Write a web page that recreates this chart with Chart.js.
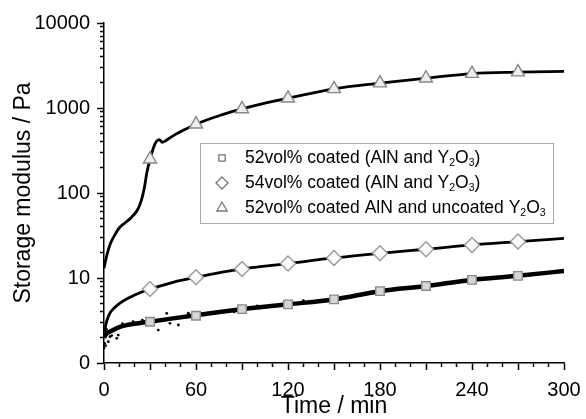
<!DOCTYPE html>
<html>
<head>
<meta charset="utf-8">
<title>Storage modulus vs time</title>
<script src="https://cdn.jsdelivr.net/npm/chart.js@4.4.1/dist/chart.umd.min.js"></script>
<style>
    html, body { margin: 0; padding: 0; background: #fff; }
</style>
</head>
<body>
<canvas id="chart" width="586" height="419"></canvas>
<script>
// Series names (legend)
const seriesNames = [
    '52vol% coated (AlN and Y₂O₃)',
    '54vol% coated (AlN and Y₂O₃)',
    '52vol% coated AlN and uncoated Y₂O₃'
];

// Marker times (min) and values (Pa)
const markTimes = [30, 60, 90, 120, 150, 180, 210, 240, 270];
const squareMarks = [3.06, 3.6, 4.3, 4.9, 5.6, 7.0, 8.05, 9.5, 10.6];
const diamondMarks = [7.4, 10.2, 12.8, 14.8, 17.2, 19.5, 21.8, 24.5, 26.8];
const triangleMarks = [250, 645, 975, 1300, 1680, 1960, 2240, 2540, 2640];

// Measured curves
const sqTime = [0, 2, 5, 10, 15, 20, 30, 45, 60, 90, 120, 150, 180, 210, 240, 270, 300];
const sqValue = [2.0, 2.25, 2.4, 2.65, 2.8, 2.9, 3.06, 3.35, 3.65, 4.3, 4.9, 5.6, 7.0, 8.05, 9.5, 10.6, 12.1];

const diaTime = [0.5, 1, 2, 4, 7, 10, 15, 20, 25, 30, 45, 60, 90, 120, 150, 180, 210, 240, 270, 300];
const diaValue = [2.3, 2.7, 3.2, 3.9, 4.5, 5.0, 5.7, 6.3, 6.9, 7.4, 8.9, 10.2, 12.8, 14.8, 17.2, 19.5, 21.8, 24.5, 26.8, 29.3];

const triTime = [0, 2, 4, 7, 10, 14, 18, 21, 23, 25, 26.5, 28, 30, 32, 34, 36, 38, 40, 45, 52, 60, 75, 90, 105, 120, 150, 180, 210, 240, 270, 300];
const triValue = [13, 19, 25, 32, 39, 45, 52, 60, 70, 90, 120, 175, 250, 330, 400, 425, 395, 410, 470, 550, 645, 810, 975, 1140, 1300, 1680, 1960, 2240, 2540, 2640, 2700];

// Scattered raw points around the 52vol% coated curve
const noiseTime = [0, 0.5, 1, 2.8, 3.9, 9.3, 8.3, 19, 35.4, 40.9, 43, 48.5, 1.5, 5, 12, 25, 55, 70, 100, 130, 85];
const noiseValue = [1.5, 1.7, 1.6, 1.78, 2.04, 2.13, 1.95, 3.06, 2.44, 3.84, 2.93, 2.8, 2.5, 2.1, 2.9, 3.2, 3.85, 3.9, 4.7, 5.4, 4.0];

// Axis ticks
const yTickValues = [1, 10, 100, 1000, 10000];
const yTickLabels = ['0', '10', '100', '1000', '10000'];
const X_LABEL_STEP = 60;
const X_MINOR = 10;
const X_MIDDLE = 30;

const FONT = "'Liberation Sans', Arial, sans-serif";

function pairs(xs, ys) {
    return xs.map((x, i) => ({ x: x, y: ys[i] }));
}

// all log ticks: 1..9 per decade, labels only on the decades
function logTicks() {
    const out = [];
    for (let i = 0; i < yTickValues.length - 1; i++) {
        for (let m = 1; m < 10; m++) out.push({ value: m * yTickValues[i] });
    }
    out.push({ value: yTickValues[yTickValues.length - 1] });
    return out;
}

// Legend box inside the plot, with subscript digits
const boxLegend = {
    id: 'boxLegend',
    afterDraw(chart, args, opts) {
        const ctx = chart.ctx;
        const subs = '₀₁₂₃₄₅₆₇₈₉';
        ctx.save();
        ctx.fillStyle = '#fff';
        ctx.fillRect(opts.left, opts.top, opts.width, opts.height);
        ctx.strokeStyle = '#aaa';
        ctx.lineWidth = 1;
        ctx.strokeRect(opts.left + 0.5, opts.top + 0.5, opts.width, opts.height);

        opts.items.forEach((item, i) => {
            const cy = opts.top + opts.firstRow + i * opts.rowGap;
            ctx.fillStyle = '#fff';
            ctx.strokeStyle = '#777';
            ctx.lineWidth = 1.3;
            Chart.helpers.drawPoint(ctx, {
                pointStyle: item.style, radius: item.radius, rotation: 0, borderWidth: 1.3
            }, opts.left + opts.symbolX, cy);

            let x = opts.left + opts.textX;
            ctx.fillStyle = '#000';
            ctx.textBaseline = 'middle';
            for (const ch of item.text) {
                const k = subs.indexOf(ch);
                if (k >= 0) {
                    ctx.font = (opts.fontSize * 0.6) + 'px ' + FONT;
                    ctx.fillText(String(k), x, cy + opts.fontSize * 0.32);
                    x += ctx.measureText(String(k)).width;
                } else {
                    ctx.font = opts.fontSize + 'px ' + FONT;
                    ctx.fillText(ch, x, cy);
                    x += ctx.measureText(ch).width;
                }
            }
        });
        ctx.restore();
    }
};

const markerBase = { showLine: false, borderWidth: 1.4, order: 0 };
const lineBase = { pointRadius: 0, borderColor: '#000', fill: false, cubicInterpolationMode: 'monotone', order: 1 };

const isDecade = v => yTickValues.includes(v);

new Chart(document.getElementById('chart').getContext('2d'), {
    type: 'line',
    data: {
        datasets: [
            { ...markerBase, label: seriesNames[0], data: pairs(markTimes, squareMarks),
              pointStyle: 'rect', pointRadius: 6, backgroundColor: '#d6d6d6', borderColor: '#8a8a8a' },
            { ...markerBase, label: seriesNames[1], data: pairs(markTimes, diamondMarks),
              pointStyle: 'rectRot', pointRadius: 7.5, backgroundColor: '#fafafa', borderColor: '#999' },
            { ...markerBase, label: seriesNames[2], data: pairs(markTimes, triangleMarks),
              pointStyle: 'triangle', pointRadius: 7.5, backgroundColor: '#eee', borderColor: '#888' },
            { ...lineBase, data: pairs(sqTime, sqValue), borderWidth: 4.5 },
            { ...lineBase, data: pairs(diaTime, diaValue), borderWidth: 2.8 },
            { ...lineBase, data: pairs(triTime, triValue), borderWidth: 2.8 },
            { data: pairs(noiseTime, noiseValue), showLine: false, pointRadius: 1.4,
              backgroundColor: '#000', borderWidth: 0, order: 2 }
        ]
    },
    options: {
        responsive: false,
        animation: false,
        events: [],
        layout: { padding: { top: 23, right: 22, bottom: 0, left: 0 } },
        plugins: {
            legend: { display: false },
            tooltip: { enabled: false },
            boxLegend: {
                left: 200, top: 143, width: 353, height: 80,
                firstRow: 15, rowGap: 25, symbolX: 22, textX: 45, fontSize: 17.5,
                items: [
                    { text: seriesNames[0], style: 'rect', radius: 4.5 },
                    { text: seriesNames[1], style: 'rectRot', radius: 6 },
                    { text: seriesNames[2], style: 'triangle', radius: 6 }
                ]
            }
        },
        scales: {
            x: {
                type: 'linear',
                min: 0,
                max: 300,
                grid: {
                    drawOnChartArea: false, drawTicks: true, tickLength: 7,
                    tickWidth: 1.5, tickColor: '#000',
                    // shorter minor ticks: only the part next to the axis is drawn
                    tickBorderDash: c => (c.tick && c.tick.value % X_MIDDLE === 0) ? [] : [3.5, 20],
                    tickBorderDashOffset: 0
                },
                border: { color: '#000', width: 1.5 },
                ticks: {
                    stepSize: X_MINOR, autoSkip: false, maxRotation: 0, color: '#000', padding: 8,
                    font: { family: FONT, size: 20 },
                    callback: v => v % X_LABEL_STEP === 0 ? String(v) : ''
                },
                title: { display: true, text: 'Time / min', color: '#000',
                         font: { family: FONT, size: 23, lineHeight: 1 }, padding: { top: 0, bottom: 1 } },
                afterFit: s => { s.height = 56; s.paddingLeft = 0; s.paddingRight = 0; }
            },
            y: {
                type: 'logarithmic',
                min: 1,
                max: 10000,
                grid: {
                    drawOnChartArea: false, drawTicks: true, tickLength: 7,
                    tickWidth: 1.5, tickColor: '#000',
                    tickBorderDash: c => (c.tick && isDecade(c.tick.value)) ? [] : [3.5, 20],
                    tickBorderDashOffset: c => (c.tick && isDecade(c.tick.value)) ? 0 : 20.5
                },
                border: { color: '#000', width: 1.5 },
                afterBuildTicks: s => { s.ticks = logTicks(); },
                ticks: {
                    color: '#000', padding: 7, autoSkip: false,
                    font: { family: FONT, size: 20 },
                    callback: v => isDecade(v) ? yTickLabels[yTickValues.indexOf(v)] : ''
                },
                title: { display: true, text: 'Storage modulus / Pa', color: '#000',
                         font: { family: FONT, size: 23, lineHeight: 1 }, padding: { top: 12, bottom: 0 } },
                afterFit: s => { s.width = 104; }
            }
        }
    },
    plugins: [boxLegend]
});
</script>
</body>
</html>
